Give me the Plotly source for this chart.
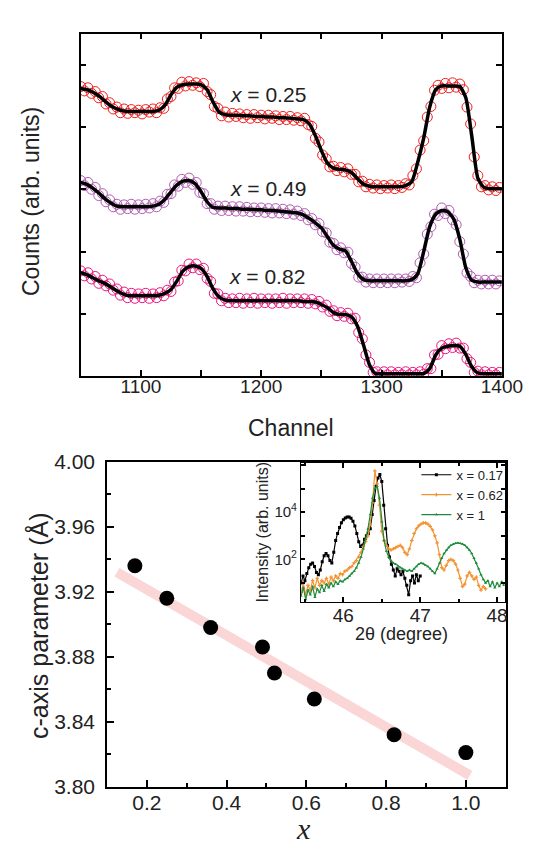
import plotly.graph_objects as go

# ---------------- top panel: RBS spectra ----------------
channel_fit = list(range(1050, 1401, 5))
fit_025 = [4.62,4.60,4.56,4.50,4.42,4.34,4.29,4.26,4.25,4.25,
           4.25,4.25,4.25,4.27,4.35,4.52,4.64,4.68,4.69,4.69,
           4.68,4.60,4.40,4.24,4.20,4.19,4.19,4.18,4.18,4.17,
           4.17,4.16,4.16,4.15,4.15,4.14,4.13,4.12,4.05,3.86,
           3.62,3.42,3.34,3.32,3.31,3.27,3.17,3.08,3.05,3.04,
           3.04,3.04,3.04,3.04,3.06,3.12,3.43,3.82,4.32,4.60,
           4.66,4.66,4.66,4.65,4.47,3.85,3.18,3.03,3.01,3.01,
           3.01]
fit_049 = [3.11,3.08,3.02,2.94,2.85,2.78,2.73,2.72,2.72,2.72,
           2.72,2.72,2.73,2.76,2.84,2.96,3.07,3.13,3.14,3.09,
           2.96,2.80,2.71,2.70,2.70,2.69,2.69,2.68,2.68,2.67,
           2.67,2.66,2.66,2.65,2.64,2.63,2.62,2.59,2.53,2.46,
           2.38,2.24,2.10,2.04,2.01,1.84,1.65,1.55,1.53,1.53,
           1.53,1.53,1.53,1.53,1.53,1.55,1.64,2.00,2.40,2.60,
           2.66,2.64,2.52,2.20,1.74,1.54,1.51,1.51,1.51,1.51,
           1.51]
fit_082 = [1.66,1.63,1.58,1.53,1.49,1.43,1.37,1.32,1.29,1.29,
           1.29,1.29,1.29,1.30,1.33,1.39,1.53,1.69,1.76,1.77,
           1.73,1.60,1.40,1.27,1.22,1.21,1.21,1.21,1.21,1.21,
           1.21,1.21,1.21,1.21,1.21,1.21,1.21,1.20,1.20,1.19,
           1.15,1.10,1.02,0.99,0.99,0.95,0.80,0.50,0.18,0.04,
           0.04,0.04,0.04,0.04,0.04,0.04,0.04,0.04,0.12,0.34,
           0.45,0.48,0.49,0.48,0.35,0.15,0.05,0.04,0.04,0.04,
           0.04]

channel_data = list(range(1050, 1400, 3))
data_025 = [4.65,4.58,4.63,4.54,4.57,4.47,4.49,4.37,4.39,4.29,
            4.32,4.23,4.29,4.22,4.28,4.23,4.27,4.21,4.28,4.24,
            4.29,4.23,4.31,4.30,4.45,4.49,4.63,4.62,4.72,4.66,
            4.73,4.67,4.71,4.65,4.70,4.57,4.52,4.33,4.30,4.18,
            4.24,4.16,4.22,4.17,4.21,4.15,4.20,4.14,4.20,4.15,
            4.19,4.13,4.19,4.14,4.18,4.12,4.17,4.12,4.17,4.11,
            4.15,4.10,4.14,4.04,4.01,3.82,3.76,3.55,3.49,3.36,
            3.37,3.30,3.35,3.28,3.33,3.24,3.24,3.12,3.13,3.04,
            3.08,3.02,3.07,3.01,3.06,3.02,3.07,3.01,3.06,3.03,
            3.09,3.07,3.22,3.33,3.63,3.78,4.16,4.33,4.59,4.67,
            4.62,4.70,4.63,4.71,4.64,4.69,4.60,4.32,4.05,3.52,
            3.22,3.04,3.06,2.99,3.04,2.98,3.03]
data_049 = [3.14,3.06,3.11,3.00,3.03,2.90,2.93,2.80,2.83,2.72,
            2.76,2.68,2.75,2.69,2.76,2.68,2.75,2.69,2.76,2.70,
            2.77,2.72,2.81,2.79,2.92,2.93,3.07,3.05,3.16,3.11,
            3.18,3.08,3.11,2.95,2.93,2.77,2.77,2.68,2.73,2.66,
            2.73,2.66,2.72,2.65,2.72,2.65,2.71,2.64,2.70,2.64,
            2.70,2.63,2.69,2.62,2.69,2.62,2.68,2.61,2.67,2.60,
            2.65,2.58,2.61,2.51,2.53,2.43,2.45,2.32,2.30,2.15,
            2.13,2.03,2.06,1.98,1.99,1.81,1.75,1.59,1.59,1.51,
            1.56,1.50,1.56,1.50,1.56,1.50,1.56,1.50,1.56,1.51,
            1.56,1.52,1.60,1.58,1.82,1.96,2.28,2.40,2.60,2.58,
            2.70,2.61,2.66,2.51,2.43,2.16,1.96,1.66,1.60,1.50,
            1.54,1.48,1.54,1.48,1.54,1.48,1.53]
data_082 = [1.69,1.61,1.66,1.56,1.60,1.49,1.54,1.45,1.48,1.38,
            1.40,1.30,1.35,1.26,1.33,1.25,1.32,1.26,1.33,1.25,
            1.32,1.26,1.34,1.29,1.38,1.36,1.51,1.53,1.70,1.69,
            1.80,1.74,1.80,1.71,1.73,1.57,1.52,1.33,1.32,1.21,
            1.25,1.18,1.24,1.18,1.25,1.17,1.24,1.18,1.25,1.17,
            1.24,1.18,1.24,1.17,1.24,1.18,1.25,1.17,1.24,1.18,
            1.24,1.18,1.24,1.17,1.23,1.16,1.20,1.11,1.14,1.04,
            1.05,0.97,1.02,0.96,1.01,0.92,0.93,0.70,0.60,0.34,
            0.22,0.06,0.07,0.02,0.07,0.02,0.07,0.02,0.06,0.02,
            0.07,0.02,0.06,0.02,0.07,0.03,0.12,0.12,0.34,0.35,
            0.49,0.44,0.52,0.46,0.53,0.45,0.45,0.28,0.22,0.06,
            0.08,0.02,0.07,0.02,0.06,0.02,0.06]
spectrum_labels = ["<i>x</i> = 0.25", "<i>x</i> = 0.49", "<i>x</i> = 0.82"]
label_channel = [1206, 1206, 1205]
label_level = [4.53, 3.01, 1.60]

# ---------------- bottom panel: c-axis parameter ----------------
x_comp = [0.17, 0.25, 0.36, 0.49, 0.52, 0.62, 0.82, 1.00]
c_param = [3.936, 3.916, 3.898, 3.886, 3.870, 3.854, 3.832, 3.821]
trend_x = [0.125, 1.01]
trend_c = [3.932, 3.807]

# ---------------- inset: XRD (log10 intensity) ----------------
tt_017 = [round(45.45 + 0.025 * i, 3) for i in range(63)]
log_017 = [1.0,1.3,1.1,1.4,1.65,1.8,1.85,1.7,1.45,1.35,
           1.55,1.9,2.15,2.25,2.15,1.95,1.85,2.3,2.8,3.1,
           3.35,3.55,3.68,3.76,3.8,3.8,3.75,3.62,3.42,3.1,
           2.75,2.55,2.6,2.85,3.0,3.1,3.3,3.9,4.5,5.1,
           5.45,5.6,5.3,4.3,3.3,2.6,2.1,1.8,1.55,1.3,
           1.6,1.5,1.35,1.5,1.2,0.9,0.5,1.1,1.3,1.0,
           1.35,1.1,1.3]
tt_062 = [round(45.45 + 0.03 * i, 3) for i in range(81)]
log_062 = [0.6,1.0,0.5,0.9,0.7,1.1,0.8,1.2,0.9,1.1,
           1.0,1.2,0.95,1.25,1.1,1.3,1.2,1.4,1.35,1.5,
           1.55,1.65,1.7,1.85,1.95,2.1,2.3,2.55,2.75,3.0,
           3.5,4.4,5.75,5.2,4.3,3.2,2.8,2.6,2.45,2.4,
           2.45,2.5,2.55,2.6,2.5,2.3,2.2,2.45,2.8,3.1,
           3.3,3.42,3.5,3.55,3.55,3.5,3.4,3.25,3.0,2.7,
           2.2,1.65,1.55,1.75,1.95,2.0,1.95,1.8,1.55,1.2,
           0.85,0.95,1.3,1.45,1.3,1.15,1.25,0.9,0.7,0.85,
           0.75]
tt_100 = [round(45.45 + 0.03 * i, 3) for i in range(89)]
log_100 = [0.45,0.8,0.3,0.7,0.5,0.85,0.4,0.75,0.6,0.9,
           0.65,0.95,0.8,1.0,0.85,1.05,0.95,1.1,1.05,1.15,
           1.2,1.3,1.4,1.5,1.65,1.85,2.1,2.45,2.85,3.3,
           3.9,4.6,5.0,5.1,4.6,3.6,2.8,2.35,2.1,1.95,
           1.85,1.8,1.72,1.65,1.6,1.55,1.5,1.55,1.5,1.6,
           1.7,1.8,1.85,1.82,1.75,1.7,1.6,1.5,1.4,1.6,
           1.85,2.05,2.25,2.4,2.5,2.6,2.65,2.68,2.7,2.68,
           2.65,2.6,2.5,2.4,2.25,2.05,1.85,1.6,1.35,1.15,
           1.0,1.1,0.85,1.05,0.8,1.0,0.85,1.05,0.9]
inset_names = ["x = 0.17", "x = 0.62", "x = 1"]

W, H = 537, 852
def px(x): return x / W
def py(y): return 1 - y / H

FONT = "Arial, Liberation Sans, sans-serif"
TXT = "#222"
fig = go.Figure()

# spectra
for xs, ys, col in [(channel_data, data_025, "#f01e1e"),
                    (channel_data, data_049, "#b25ab2"),
                    (channel_data, data_082, "#e8177f")]:
    fig.add_trace(go.Scatter(x=xs, y=ys, mode="markers", xaxis="x", yaxis="y",
                             marker=dict(symbol="circle-open", size=10, color=col, line=dict(width=1)),
                             showlegend=False, cliponaxis=True))
for ys in [fit_025, fit_049, fit_082]:
    fig.add_trace(go.Scatter(x=channel_fit, y=ys, mode="lines", xaxis="x", yaxis="y",
                             line=dict(color="black", width=3.5, shape="spline", smoothing=0.6),
                             showlegend=False))

# c-axis panel
fig.add_trace(go.Scatter(x=trend_x, y=trend_c, mode="lines", xaxis="x2", yaxis="y2",
                         line=dict(color="rgb(250,214,214)", width=10), showlegend=False))
fig.add_trace(go.Scatter(x=x_comp, y=c_param, mode="markers", xaxis="x2", yaxis="y2",
                         marker=dict(size=15, color="black"), showlegend=False))

# inset
for tt, lg, col, sym, nm in [(tt_017, log_017, "black", "square", inset_names[0]),
                             (tt_062, log_062, "#f39433", "cross", inset_names[1]),
                             (tt_100, log_100, "#1e8c3c", "triangle-up", inset_names[2])]:
    fig.add_trace(go.Scatter(x=tt, y=[10 ** v for v in lg], mode="lines+markers",
                             xaxis="x3", yaxis="y3", name=nm,
                             line=dict(color=col, width=1.2),
                             marker=dict(symbol=sym, size=3, color=col)))

axis_common = dict(showgrid=False, zeroline=False, showline=True, linecolor="black",
                   linewidth=1.5, ticks="inside", tickcolor="black", tickwidth=1.5)

fig.update_layout(
    width=W, height=H, margin=dict(l=0, r=0, t=0, b=0),
    paper_bgcolor="white", plot_bgcolor="rgba(0,0,0,0)",
    font=dict(family=FONT, color=TXT),
    xaxis=dict(axis_common, domain=[px(75.7), px(514)], range=[1050, 1400], anchor="y",
               dtick=100, tick0=1000, ticklen=6, mirror="ticks",
               minor=dict(dtick=50, ticklen=6, ticks="inside", tickcolor="black", tickwidth=1.5),
               tickfont=dict(size=19), ticklabelstandoff=-8),
    yaxis=dict(axis_common, domain=[py(366), py(14)], range=[0, 5.5], anchor="x",
               dtick=1, ticklen=6, mirror="ticks", showticklabels=False),
    xaxis2=dict(axis_common, domain=[px(103), px(518)], range=[0.1, 1.1], anchor="y2",
                dtick=0.2, tick0=0, tickformat=".1f", ticklen=7, mirror=True,
                minor=dict(dtick=0.1, ticklen=4, ticks="inside", tickcolor="black", tickwidth=1.5),
                tickfont=dict(size=21), ticklabelstandoff=-4),
    yaxis2=dict(axis_common, domain=[py(788), py(454)], range=[3.80, 4.00], anchor="x2",
                dtick=0.04, tick0=3.8, tickformat=".2f", ticklen=7, mirror=True,
                minor=dict(dtick=0.02, ticklen=4, ticks="inside", tickcolor="black", tickwidth=1.5),
                tickfont=dict(size=21), ticklabelstandoff=6),
    xaxis3=dict(axis_common, domain=[px(305), px(517)], range=[45.45, 48.1], anchor="y3",
                dtick=1, tick0=46, ticklen=5, mirror="ticks", linewidth=1.3,
                minor=dict(dtick=0.5, ticklen=3, ticks="inside", tickcolor="black"),
                tickfont=dict(size=19), ticklabelstandoff=-4),
    yaxis3=dict(axis_common, domain=[py(598), py(455)], type="log", range=[0.2, 6.1],
                anchor="x3", linewidth=1.3,
                tickvals=[100, 1e4],
                ticktext=["10<sup>2</sup>", "10<sup>4</sup>"],
                minor=dict(tickvals=[10, 1000, 1e5, 1e6], ticklen=4, ticks="inside",
                           tickcolor="black", tickwidth=1.5),
                ticklen=4, mirror="ticks", tickfont=dict(size=15)),
    legend=dict(x=px(425), y=py(452), xanchor="left", yanchor="top",
                bgcolor="rgba(0,0,0,0)", font=dict(size=13, color=TXT),
                tracegroupgap=0, itemwidth=30),
)

ann = []
for t, cx, cy in zip(spectrum_labels, label_channel, label_level):
    ann.append(dict(text=t, x=cx, y=cy, xref="x", yref="y", showarrow=False,
                    font=dict(size=21, family=FONT, color=TXT)))
ann += [
    dict(text="Counts (arb. units)", x=px(24), y=py(187), textangle=-90,
         font=dict(size=23, family=FONT, color=TXT)),
    dict(text="Channel", x=px(294), y=py(419),
         font=dict(size=23, family=FONT, color=TXT)),
    dict(text="c-axis parameter (Å)", x=px(31), y=py(623), textangle=-90,
         font=dict(size=25, family=FONT, color=TXT)),
    dict(text="<i>x</i>", x=px(308), y=py(831),
         font=dict(size=30, family="Times New Roman, Liberation Serif, serif", color=TXT)),
    dict(text="Intensity (arb. units)", x=px(265), y=py(526), textangle=-90,
         font=dict(size=16, family=FONT, color=TXT)),
    dict(text="2θ (degree)", x=px(410), y=py(631),
         font=dict(size=18, family=FONT, color=TXT)),
]
for a in ann[3:]:
    a.setdefault("xref", "paper"); a.setdefault("yref", "paper")
    a.setdefault("showarrow", False)
    a.setdefault("xanchor", "center"); a.setdefault("yanchor", "middle")
fig.update_layout(annotations=ann)

fig.write_html("out.html")
